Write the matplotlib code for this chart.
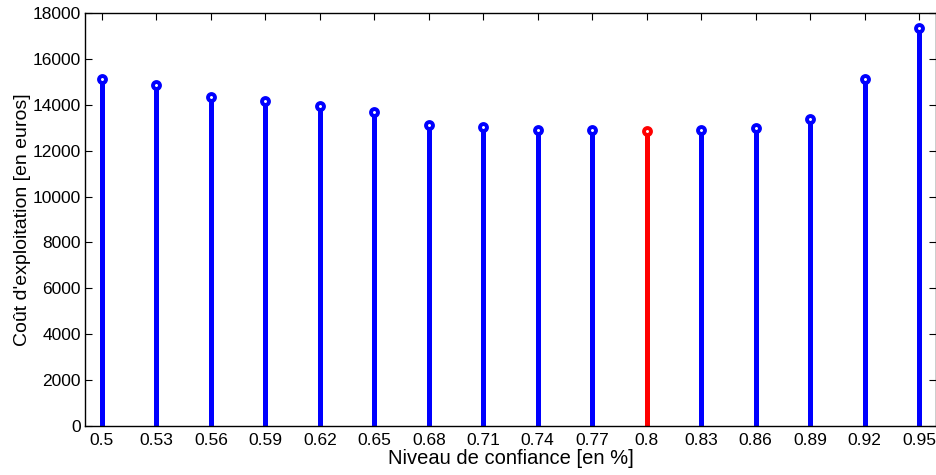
import matplotlib
matplotlib.use("Agg")
import matplotlib.pyplot as plt
import numpy as np

plt.rcParams["font.family"] = ["Liberation Sans", "DejaVu Sans"]

# confidence levels and operating cost (euros)
levels = ["0.5", "0.53", "0.56", "0.59", "0.62", "0.65", "0.68", "0.71",
          "0.74", "0.77", "0.8", "0.83", "0.86", "0.89", "0.92", "0.95"]
costs = [15120, 14860, 14340, 14170, 13950, 13690, 13120, 13030,
         12910, 12890, 12870, 12890, 12970, 13380, 15110, 17330]
best = "0.8"

W, H = 936, 475
fig = plt.figure(figsize=(W / 100, H / 100), dpi=100)
ax = fig.add_axes([85 / W, (H - 426) / H, (936 - 85) / W, (426 - 13) / H])

x = np.arange(1, len(levels) + 1)
for xi, lab, c in zip(x, levels, costs):
    col = "#ff0000" if lab == best else "#0000ff"
    ax.vlines(xi, 0, c, color=col, lw=3.6, zorder=2)
    ax.plot(xi, c, "o", ms=5, mfc="white", mec=col, mew=2.8, zorder=3)

ax.set_xlim(0.69, 16.31)
ax.set_ylim(0, 18000)
ax.set_xticks(x)
ax.set_xticklabels(levels)
ax.set_yticks(np.arange(0, 18001, 2000))
ax.tick_params(direction="in", top=True, right=True, labelsize=12.5, length=5)
ax.tick_params(axis="x", pad=5)
ax.tick_params(axis="y", pad=3)
for s in ax.spines.values():
    s.set_linewidth(1.0)

ax.set_xlabel("Niveau de confiance [en %]", fontsize=14.5, labelpad=1)
ax.set_ylabel("Coût d'exploitation [en euros]", fontsize=14, labelpad=1)

fig.savefig("out.png", dpi=100)
